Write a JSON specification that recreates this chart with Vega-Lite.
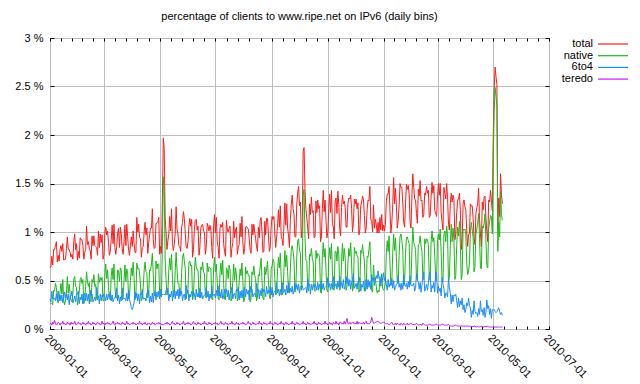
{
"$schema":"https://vega.github.io/schema/vega-lite/v6.json",
"width":499,"height":291,
"autosize":{"type":"none"},
"padding":{"left":50,"top":38,"right":91,"bottom":55},
"title":{"text":"percentage of clients to www.ripe.net on IPv6 (daily bins)","fontSize":11,"fontWeight":"normal","font":"Liberation Sans","color":"#000","offset":10,"anchor":"middle"},
"data":{"values":[
{"d":"2009-01-01","t":0.63,"n":0.26,"s":0.31,"r":0.05},
{"d":"2009-01-02","t":0.64,"n":0.26,"s":0.28,"r":0.06},
{"d":"2009-01-03","t":0.75,"n":0.27,"s":0.39,"r":0.04},
{"d":"2009-01-04","t":0.66,"n":0.25,"s":0.31,"r":0.07},
{"d":"2009-01-05","t":0.82,"n":0.4,"s":0.31,"r":0.05},
{"d":"2009-01-06","t":0.82,"n":0.39,"s":0.32,"r":0.09},
{"d":"2009-01-07","t":0.86,"n":0.47,"s":0.29,"r":0.06},
{"d":"2009-01-08","t":0.9,"n":0.43,"s":0.36,"r":0.04},
{"d":"2009-01-09","t":0.69,"n":0.3,"s":0.3,"r":0.05},
{"d":"2009-01-10","t":0.76,"n":0.27,"s":0.39,"r":0.07},
{"d":"2009-01-11","t":0.7,"n":0.3,"s":0.29,"r":0.06},
{"d":"2009-01-12","t":0.82,"n":0.38,"s":0.35,"r":0.04},
{"d":"2009-01-13","t":0.86,"n":0.47,"s":0.29,"r":0.06},
{"d":"2009-01-14","t":0.8,"n":0.36,"s":0.35,"r":0.05},
{"d":"2009-01-15","t":0.88,"n":0.51,"s":0.27,"r":0.08},
{"d":"2009-01-16","t":0.71,"n":0.3,"s":0.32,"r":0.05},
{"d":"2009-01-17","t":0.72,"n":0.25,"s":0.38,"r":0.06},
{"d":"2009-01-18","t":0.72,"n":0.3,"s":0.32,"r":0.04},
{"d":"2009-01-19","t":0.83,"n":0.37,"s":0.36,"r":0.05},
{"d":"2009-01-20","t":0.95,"n":0.54,"s":0.3,"r":0.07},
{"d":"2009-01-21","t":0.82,"n":0.37,"s":0.36,"r":0.05},
{"d":"2009-01-22","t":0.82,"n":0.46,"s":0.25,"r":0.06},
{"d":"2009-01-23","t":0.79,"n":0.36,"s":0.34,"r":0.04},
{"d":"2009-01-24","t":0.74,"n":0.29,"s":0.34,"r":0.07},
{"d":"2009-01-25","t":0.77,"n":0.28,"s":0.39,"r":0.05},
{"d":"2009-01-26","t":0.72,"n":0.36,"s":0.27,"r":0.06},
{"d":"2009-01-27","t":0.9,"n":0.51,"s":0.3,"r":0.05},
{"d":"2009-01-28","t":0.98,"n":0.54,"s":0.34,"r":0.08},
{"d":"2009-01-29","t":0.82,"n":0.44,"s":0.28,"r":0.05},
{"d":"2009-01-30","t":0.88,"n":0.43,"s":0.36,"r":0.04},
{"d":"2009-01-31","t":0.71,"n":0.25,"s":0.36,"r":0.06},
{"d":"2009-02-01","t":0.8,"n":0.31,"s":0.39,"r":0.07},
{"d":"2009-02-02","t":0.73,"n":0.38,"s":0.26,"r":0.05},
{"d":"2009-02-03","t":0.94,"n":0.51,"s":0.33,"r":0.06},
{"d":"2009-02-04","t":0.92,"n":0.53,"s":0.3,"r":0.04},
{"d":"2009-02-05","t":0.92,"n":0.47,"s":0.36,"r":0.05},
{"d":"2009-02-06","t":0.86,"n":0.51,"s":0.26,"r":0.07},
{"d":"2009-02-07","t":0.72,"n":0.26,"s":0.36,"r":0.05},
{"d":"2009-02-08","t":0.79,"n":0.31,"s":0.37,"r":0.06},
{"d":"2009-02-09","t":0.82,"n":0.44,"s":0.29,"r":0.04},
{"d":"2009-02-10","t":1.06,"n":0.59,"s":0.37,"r":0.06},
{"d":"2009-02-11","t":0.87,"n":0.49,"s":0.29,"r":0.05},
{"d":"2009-02-12","t":0.9,"n":0.44,"s":0.36,"r":0.08},
{"d":"2009-02-13","t":0.83,"n":0.48,"s":0.26,"r":0.05},
{"d":"2009-02-14","t":0.81,"n":0.3,"s":0.4,"r":0.06},
{"d":"2009-02-15","t":0.72,"n":0.28,"s":0.34,"r":0.04},
{"d":"2009-02-16","t":0.96,"n":0.51,"s":0.36,"r":0.05},
{"d":"2009-02-17","t":0.86,"n":0.48,"s":0.28,"r":0.07},
{"d":"2009-02-18","t":0.96,"n":0.56,"s":0.3,"r":0.05},
{"d":"2009-02-19","t":0.86,"n":0.44,"s":0.33,"r":0.06},
{"d":"2009-02-20","t":0.85,"n":0.46,"s":0.29,"r":0.04},
{"d":"2009-02-21","t":0.84,"n":0.31,"s":0.43,"r":0.06},
{"d":"2009-02-22","t":0.76,"n":0.3,"s":0.35,"r":0.07},
{"d":"2009-02-23","t":1.01,"n":0.57,"s":0.34,"r":0.05},
{"d":"2009-02-24","t":0.84,"n":0.48,"s":0.26,"r":0.06},
{"d":"2009-02-25","t":0.98,"n":0.53,"s":0.36,"r":0.04},
{"d":"2009-02-26","t":0.89,"n":0.5,"s":0.29,"r":0.05},
{"d":"2009-02-27","t":0.97,"n":0.53,"s":0.35,"r":0.08},
{"d":"2009-02-28","t":0.72,"n":0.29,"s":0.33,"r":0.05},
{"d":"2009-03-01","t":0.76,"n":0.29,"s":0.36,"r":0.06},
{"d":"2009-03-02","t":0.98,"n":0.56,"s":0.33,"r":0.04},
{"d":"2009-03-03","t":1.05,"n":0.67,"s":0.29,"r":0.06},
{"d":"2009-03-04","t":0.97,"n":0.52,"s":0.36,"r":0.05},
{"d":"2009-03-05","t":1.01,"n":0.61,"s":0.3,"r":0.07},
{"d":"2009-03-06","t":0.89,"n":0.44,"s":0.36,"r":0.05},
{"d":"2009-03-07","t":0.76,"n":0.32,"s":0.33,"r":0.06},
{"d":"2009-03-08","t":0.8,"n":0.3,"s":0.39,"r":0.04},
{"d":"2009-03-09","t":0.92,"n":0.54,"s":0.29,"r":0.05},
{"d":"2009-03-10","t":1.07,"n":0.63,"s":0.35,"r":0.06},
{"d":"2009-03-11","t":0.88,"n":0.51,"s":0.28,"r":0.08},
{"d":"2009-03-12","t":1.08,"n":0.67,"s":0.31,"r":0.05},
{"d":"2009-03-13","t":0.84,"n":0.44,"s":0.32,"r":0.04},
{"d":"2009-03-14","t":0.77,"n":0.32,"s":0.34,"r":0.06},
{"d":"2009-03-15","t":0.85,"n":0.32,"s":0.42,"r":0.05},
{"d":"2009-03-16","t":0.99,"n":0.61,"s":0.29,"r":0.07},
{"d":"2009-03-17","t":1.04,"n":0.6,"s":0.35,"r":0.05},
{"d":"2009-03-18","t":0.84,"n":0.49,"s":0.26,"r":0.06},
{"d":"2009-03-19","t":1.05,"n":0.63,"s":0.33,"r":0.04},
{"d":"2009-03-20","t":0.98,"n":0.6,"s":0.29,"r":0.05},
{"d":"2009-03-21","t":0.83,"n":0.3,"s":0.42,"r":0.07},
{"d":"2009-03-22","t":0.77,"n":0.34,"s":0.32,"r":0.05},
{"d":"2009-03-23","t":0.9,"n":0.5,"s":0.31,"r":0.06},
{"d":"2009-03-24","t":1.07,"n":0.66,"s":0.32,"r":0.04},
{"d":"2009-03-25","t":0.86,"n":0.49,"s":0.29,"r":0.05},
{"d":"2009-03-26","t":1.08,"n":0.62,"s":0.37,"r":0.08},
{"d":"2009-03-27","t":0.95,"n":0.57,"s":0.29,"r":0.05},
{"d":"2009-03-28","t":0.81,"n":0.31,"s":0.4,"r":0.06},
{"d":"2009-03-29","t":0.76,"n":0.35,"s":0.3,"r":0.04},
{"d":"2009-03-30","t":0.86,"n":0.5,"s":0.27,"r":0.05},
{"d":"2009-03-31","t":0.95,"n":0.63,"s":0.22,"r":0.06},
{"d":"2009-04-01","t":0.85,"n":0.55,"s":0.2,"r":0.05},
{"d":"2009-04-02","t":1.01,"n":0.69,"s":0.23,"r":0.07},
{"d":"2009-04-03","t":0.88,"n":0.53,"s":0.27,"r":0.05},
{"d":"2009-04-04","t":0.79,"n":0.3,"s":0.38,"r":0.06},
{"d":"2009-04-05","t":0.79,"n":0.35,"s":0.32,"r":0.04},
{"d":"2009-04-06","t":1.15,"n":0.68,"s":0.37,"r":0.05},
{"d":"2009-04-07","t":1.0,"n":0.62,"s":0.29,"r":0.06},
{"d":"2009-04-08","t":1.08,"n":0.63,"s":0.36,"r":0.05},
{"d":"2009-04-09","t":0.94,"n":0.58,"s":0.26,"r":0.08},
{"d":"2009-04-10","t":0.93,"n":0.46,"s":0.37,"r":0.05},
{"d":"2009-04-11","t":0.74,"n":0.29,"s":0.35,"r":0.06},
{"d":"2009-04-12","t":0.84,"n":0.32,"s":0.41,"r":0.04},
{"d":"2009-04-13","t":0.85,"n":0.43,"s":0.31,"r":0.06},
{"d":"2009-04-14","t":1.0,"n":0.6,"s":0.31,"r":0.05},
{"d":"2009-04-15","t":1.1,"n":0.69,"s":0.32,"r":0.07},
{"d":"2009-04-16","t":0.97,"n":0.59,"s":0.29,"r":0.05},
{"d":"2009-04-17","t":1.04,"n":0.58,"s":0.37,"r":0.04},
{"d":"2009-04-18","t":0.78,"n":0.32,"s":0.36,"r":0.06},
{"d":"2009-04-19","t":0.89,"n":0.37,"s":0.4,"r":0.05},
{"d":"2009-04-20","t":0.97,"n":0.61,"s":0.27,"r":0.06},
{"d":"2009-04-21","t":1.04,"n":0.6,"s":0.34,"r":0.04},
{"d":"2009-04-22","t":1.04,"n":0.67,"s":0.28,"r":0.05},
{"d":"2009-04-23","t":1.24,"n":0.78,"s":0.37,"r":0.07},
{"d":"2009-04-24","t":0.92,"n":0.56,"s":0.27,"r":0.05},
{"d":"2009-04-25","t":0.83,"n":0.35,"s":0.38,"r":0.06},
{"d":"2009-04-26","t":0.84,"n":0.34,"s":0.39,"r":0.04},
{"d":"2009-04-27","t":1.09,"n":0.7,"s":0.3,"r":0.05},
{"d":"2009-04-28","t":1.09,"n":0.62,"s":0.38,"r":0.06},
{"d":"2009-04-29","t":1.1,"n":0.67,"s":0.33,"r":0.05},
{"d":"2009-04-30","t":1.15,"n":0.67,"s":0.39,"r":0.07},
{"d":"2009-05-01","t":0.77,"n":0.36,"s":0.31,"r":0.05},
{"d":"2009-05-02","t":0.85,"n":0.35,"s":0.41,"r":0.06},
{"d":"2009-05-03","t":0.78,"n":0.33,"s":0.35,"r":0.04},
{"d":"2009-05-04","t":1.35,"n":0.9,"s":0.36,"r":0.05},
{"d":"2009-05-05","t":1.97,"n":1.57,"s":0.35,"r":0.04},
{"d":"2009-05-06","t":1.85,"n":1.42,"s":0.36,"r":0.05},
{"d":"2009-05-07","t":1.15,"n":0.72,"s":0.35,"r":0.06},
{"d":"2009-05-08","t":0.99,"n":0.51,"s":0.4,"r":0.05},
{"d":"2009-05-09","t":0.82,"n":0.35,"s":0.38,"r":0.07},
{"d":"2009-05-10","t":0.91,"n":0.39,"s":0.42,"r":0.05},
{"d":"2009-05-11","t":0.98,"n":0.61,"s":0.29,"r":0.06},
{"d":"2009-05-12","t":1.16,"n":0.73,"s":0.36,"r":0.04},
{"d":"2009-05-13","t":1.01,"n":0.61,"s":0.33,"r":0.05},
{"d":"2009-05-14","t":1.24,"n":0.77,"s":0.39,"r":0.06},
{"d":"2009-05-15","t":0.88,"n":0.52,"s":0.29,"r":0.08},
{"d":"2009-05-16","t":0.81,"n":0.33,"s":0.39,"r":0.05},
{"d":"2009-05-17","t":0.87,"n":0.37,"s":0.4,"r":0.06},
{"d":"2009-05-18","t":0.99,"n":0.6,"s":0.31,"r":0.04},
{"d":"2009-05-19","t":1.26,"n":0.79,"s":0.39,"r":0.05},
{"d":"2009-05-20","t":1.03,"n":0.61,"s":0.34,"r":0.07},
{"d":"2009-05-21","t":0.98,"n":0.47,"s":0.41,"r":0.05},
{"d":"2009-05-22","t":0.86,"n":0.47,"s":0.31,"r":0.06},
{"d":"2009-05-23","t":0.85,"n":0.34,"s":0.42,"r":0.04},
{"d":"2009-05-24","t":0.8,"n":0.34,"s":0.36,"r":0.05},
{"d":"2009-05-25","t":1.05,"n":0.58,"s":0.39,"r":0.06},
{"d":"2009-05-26","t":1.1,"n":0.74,"s":0.29,"r":0.05},
{"d":"2009-05-27","t":1.21,"n":0.78,"s":0.35,"r":0.08},
{"d":"2009-05-28","t":1.14,"n":0.7,"s":0.36,"r":0.05},
{"d":"2009-05-29","t":0.99,"n":0.62,"s":0.3,"r":0.04},
{"d":"2009-05-30","t":0.85,"n":0.31,"s":0.45,"r":0.06},
{"d":"2009-05-31","t":0.83,"n":0.37,"s":0.37,"r":0.05},
{"d":"2009-06-01","t":0.9,"n":0.42,"s":0.4,"r":0.07},
{"d":"2009-06-02","t":1.06,"n":0.69,"s":0.29,"r":0.05},
{"d":"2009-06-03","t":1.14,"n":0.7,"s":0.36,"r":0.06},
{"d":"2009-06-04","t":1.06,"n":0.65,"s":0.33,"r":0.04},
{"d":"2009-06-05","t":1.13,"n":0.66,"s":0.39,"r":0.05},
{"d":"2009-06-06","t":0.74,"n":0.3,"s":0.35,"r":0.06},
{"d":"2009-06-07","t":0.82,"n":0.35,"s":0.38,"r":0.08},
{"d":"2009-06-08","t":1.03,"n":0.59,"s":0.36,"r":0.05},
{"d":"2009-06-09","t":1.12,"n":0.74,"s":0.3,"r":0.06},
{"d":"2009-06-10","t":1.13,"n":0.64,"s":0.41,"r":0.04},
{"d":"2009-06-11","t":1.02,"n":0.61,"s":0.33,"r":0.05},
{"d":"2009-06-12","t":1.06,"n":0.61,"s":0.37,"r":0.07},
{"d":"2009-06-13","t":0.76,"n":0.34,"s":0.33,"r":0.05},
{"d":"2009-06-14","t":0.84,"n":0.32,"s":0.42,"r":0.06},
{"d":"2009-06-15","t":1.04,"n":0.64,"s":0.32,"r":0.04},
{"d":"2009-06-16","t":1.07,"n":0.61,"s":0.38,"r":0.05},
{"d":"2009-06-17","t":1.08,"n":0.69,"s":0.31,"r":0.06},
{"d":"2009-06-18","t":1.01,"n":0.59,"s":0.34,"r":0.05},
{"d":"2009-06-19","t":1.0,"n":0.57,"s":0.35,"r":0.08},
{"d":"2009-06-20","t":0.77,"n":0.33,"s":0.35,"r":0.05},
{"d":"2009-06-21","t":0.84,"n":0.32,"s":0.43,"r":0.06},
{"d":"2009-06-22","t":1.09,"n":0.68,"s":0.33,"r":0.04},
{"d":"2009-06-23","t":1.06,"n":0.59,"s":0.39,"r":0.05},
{"d":"2009-06-24","t":1.01,"n":0.64,"s":0.29,"r":0.07},
{"d":"2009-06-25","t":1.07,"n":0.63,"s":0.36,"r":0.05},
{"d":"2009-06-26","t":1.02,"n":0.62,"s":0.32,"r":0.06},
{"d":"2009-06-27","t":0.84,"n":0.31,"s":0.44,"r":0.04},
{"d":"2009-06-28","t":0.73,"n":0.3,"s":0.34,"r":0.05},
{"d":"2009-06-29","t":1.06,"n":0.63,"s":0.35,"r":0.06},
{"d":"2009-06-30","t":1.18,"n":0.74,"s":0.36,"r":0.05},
{"d":"2009-07-01","t":0.99,"n":0.59,"s":0.32,"r":0.07},
{"d":"2009-07-02","t":1.15,"n":0.67,"s":0.4,"r":0.05},
{"d":"2009-07-03","t":0.9,"n":0.48,"s":0.34,"r":0.06},
{"d":"2009-07-04","t":0.84,"n":0.32,"s":0.44,"r":0.04},
{"d":"2009-07-05","t":0.73,"n":0.3,"s":0.34,"r":0.05},
{"d":"2009-07-06","t":1.04,"n":0.58,"s":0.38,"r":0.06},
{"d":"2009-07-07","t":1.08,"n":0.68,"s":0.32,"r":0.08},
{"d":"2009-07-08","t":1.05,"n":0.56,"s":0.41,"r":0.05},
{"d":"2009-07-09","t":1.1,"n":0.71,"s":0.31,"r":0.06},
{"d":"2009-07-10","t":0.88,"n":0.46,"s":0.34,"r":0.04},
{"d":"2009-07-11","t":0.8,"n":0.31,"s":0.41,"r":0.05},
{"d":"2009-07-12","t":0.75,"n":0.3,"s":0.37,"r":0.07},
{"d":"2009-07-13","t":1.12,"n":0.63,"s":0.41,"r":0.05},
{"d":"2009-07-14","t":1.02,"n":0.61,"s":0.33,"r":0.06},
{"d":"2009-07-15","t":1.0,"n":0.52,"s":0.4,"r":0.04},
{"d":"2009-07-16","t":1.04,"n":0.66,"s":0.3,"r":0.05},
{"d":"2009-07-17","t":1.06,"n":0.61,"s":0.37,"r":0.06},
{"d":"2009-07-18","t":0.74,"n":0.29,"s":0.37,"r":0.05},
{"d":"2009-07-19","t":0.83,"n":0.32,"s":0.43,"r":0.08},
{"d":"2009-07-20","t":0.89,"n":0.5,"s":0.31,"r":0.05},
{"d":"2009-07-21","t":1.11,"n":0.67,"s":0.36,"r":0.06},
{"d":"2009-07-22","t":0.94,"n":0.5,"s":0.37,"r":0.04},
{"d":"2009-07-23","t":1.02,"n":0.63,"s":0.31,"r":0.05},
{"d":"2009-07-24","t":1.05,"n":0.56,"s":0.41,"r":0.07},
{"d":"2009-07-25","t":0.77,"n":0.29,"s":0.39,"r":0.05},
{"d":"2009-07-26","t":0.84,"n":0.33,"s":0.43,"r":0.06},
{"d":"2009-07-27","t":0.87,"n":0.49,"s":0.3,"r":0.04},
{"d":"2009-07-28","t":1.09,"n":0.62,"s":0.39,"r":0.05},
{"d":"2009-07-29","t":0.95,"n":0.55,"s":0.32,"r":0.06},
{"d":"2009-07-30","t":1.16,"n":0.68,"s":0.4,"r":0.05},
{"d":"2009-07-31","t":0.9,"n":0.5,"s":0.32,"r":0.07},
{"d":"2009-08-01","t":0.77,"n":0.28,"s":0.4,"r":0.05},
{"d":"2009-08-02","t":0.83,"n":0.32,"s":0.43,"r":0.06},
{"d":"2009-08-03","t":1.05,"n":0.64,"s":0.33,"r":0.04},
{"d":"2009-08-04","t":1.06,"n":0.57,"s":0.41,"r":0.05},
{"d":"2009-08-05","t":1.04,"n":0.6,"s":0.36,"r":0.06},
{"d":"2009-08-06","t":1.03,"n":0.55,"s":0.4,"r":0.08},
{"d":"2009-08-07","t":0.93,"n":0.55,"s":0.3,"r":0.05},
{"d":"2009-08-08","t":0.81,"n":0.28,"s":0.44,"r":0.06},
{"d":"2009-08-09","t":0.78,"n":0.31,"s":0.38,"r":0.04},
{"d":"2009-08-10","t":1.08,"n":0.59,"s":0.41,"r":0.05},
{"d":"2009-08-11","t":0.97,"n":0.56,"s":0.33,"r":0.07},
{"d":"2009-08-12","t":1.08,"n":0.65,"s":0.36,"r":0.05},
{"d":"2009-08-13","t":1.0,"n":0.55,"s":0.37,"r":0.06},
{"d":"2009-08-14","t":0.93,"n":0.52,"s":0.33,"r":0.04},
{"d":"2009-08-15","t":0.85,"n":0.29,"s":0.47,"r":0.05},
{"d":"2009-08-16","t":0.8,"n":0.33,"s":0.39,"r":0.06},
{"d":"2009-08-17","t":1.05,"n":0.56,"s":0.41,"r":0.05},
{"d":"2009-08-18","t":0.94,"n":0.55,"s":0.31,"r":0.08},
{"d":"2009-08-19","t":1.12,"n":0.64,"s":0.4,"r":0.05},
{"d":"2009-08-20","t":1.15,"n":0.73,"s":0.34,"r":0.06},
{"d":"2009-08-21","t":1.0,"n":0.5,"s":0.42,"r":0.04},
{"d":"2009-08-22","t":0.79,"n":0.32,"s":0.38,"r":0.05},
{"d":"2009-08-23","t":0.8,"n":0.3,"s":0.41,"r":0.07},
{"d":"2009-08-24","t":1.11,"n":0.64,"s":0.39,"r":0.05},
{"d":"2009-08-25","t":0.97,"n":0.56,"s":0.33,"r":0.06},
{"d":"2009-08-26","t":1.14,"n":0.62,"s":0.44,"r":0.04},
{"d":"2009-08-27","t":1.14,"n":0.7,"s":0.36,"r":0.05},
{"d":"2009-08-28","t":0.98,"n":0.5,"s":0.4,"r":0.06},
{"d":"2009-08-29","t":0.8,"n":0.34,"s":0.37,"r":0.05},
{"d":"2009-08-30","t":0.84,"n":0.31,"s":0.44,"r":0.08},
{"d":"2009-08-31","t":1.05,"n":0.62,"s":0.35,"r":0.05},
{"d":"2009-09-01","t":1.16,"n":0.65,"s":0.43,"r":0.06},
{"d":"2009-09-02","t":1.13,"n":0.72,"s":0.33,"r":0.04},
{"d":"2009-09-03","t":1.16,"n":0.7,"s":0.38,"r":0.05},
{"d":"2009-09-04","t":0.98,"n":0.51,"s":0.39,"r":0.07},
{"d":"2009-09-05","t":0.84,"n":0.35,"s":0.4,"r":0.05},
{"d":"2009-09-06","t":0.95,"n":0.38,"s":0.48,"r":0.06},
{"d":"2009-09-07","t":1.07,"n":0.62,"s":0.37,"r":0.04},
{"d":"2009-09-08","t":1.23,"n":0.74,"s":0.41,"r":0.05},
{"d":"2009-09-09","t":1.05,"n":0.63,"s":0.34,"r":0.06},
{"d":"2009-09-10","t":1.27,"n":0.78,"s":0.41,"r":0.05},
{"d":"2009-09-11","t":0.95,"n":0.52,"s":0.35,"r":0.08},
{"d":"2009-09-12","t":0.92,"n":0.35,"s":0.48,"r":0.05},
{"d":"2009-09-13","t":0.86,"n":0.38,"s":0.38,"r":0.06},
{"d":"2009-09-14","t":1.08,"n":0.62,"s":0.38,"r":0.04},
{"d":"2009-09-15","t":1.3,"n":0.81,"s":0.41,"r":0.05},
{"d":"2009-09-16","t":1.07,"n":0.64,"s":0.35,"r":0.07},
{"d":"2009-09-17","t":1.29,"n":0.76,"s":0.45,"r":0.05},
{"d":"2009-09-18","t":1.04,"n":0.59,"s":0.37,"r":0.06},
{"d":"2009-09-19","t":0.96,"n":0.38,"s":0.48,"r":0.04},
{"d":"2009-09-20","t":0.84,"n":0.37,"s":0.38,"r":0.05},
{"d":"2009-09-21","t":1.13,"n":0.63,"s":0.42,"r":0.06},
{"d":"2009-09-22","t":1.28,"n":0.82,"s":0.38,"r":0.05},
{"d":"2009-09-23","t":1.38,"n":0.86,"s":0.44,"r":0.08},
{"d":"2009-09-24","t":1.24,"n":0.8,"s":0.36,"r":0.05},
{"d":"2009-09-25","t":1.18,"n":0.71,"s":0.39,"r":0.06},
{"d":"2009-09-26","t":0.95,"n":0.38,"s":0.47,"r":0.04},
{"d":"2009-09-27","t":0.95,"n":0.44,"s":0.41,"r":0.05},
{"d":"2009-09-28","t":1.28,"n":0.74,"s":0.46,"r":0.07},
{"d":"2009-09-29","t":1.4,"n":0.91,"s":0.4,"r":0.05},
{"d":"2009-09-30","t":1.47,"n":0.93,"s":0.46,"r":0.06},
{"d":"2009-10-01","t":1.27,"n":0.81,"s":0.37,"r":0.04},
{"d":"2009-10-02","t":1.31,"n":0.78,"s":0.44,"r":0.05},
{"d":"2009-10-03","t":0.94,"n":0.4,"s":0.44,"r":0.06},
{"d":"2009-10-04","t":1.05,"n":0.5,"s":0.45,"r":0.05},
{"d":"2009-10-05","t":1.83,"n":1.38,"s":0.4,"r":0.08},
{"d":"2009-10-06","t":1.87,"n":1.44,"s":0.41,"r":0.05},
{"d":"2009-10-07","t":1.45,"n":0.95,"s":0.42,"r":0.06},
{"d":"2009-10-08","t":1.23,"n":0.71,"s":0.43,"r":0.04},
{"d":"2009-10-09","t":1.14,"n":0.7,"s":0.37,"r":0.05},
{"d":"2009-10-10","t":1.04,"n":0.42,"s":0.52,"r":0.07},
{"d":"2009-10-11","t":0.93,"n":0.39,"s":0.44,"r":0.05},
{"d":"2009-10-12","t":1.29,"n":0.77,"s":0.46,"r":0.06},
{"d":"2009-10-13","t":1.18,"n":0.75,"s":0.36,"r":0.04},
{"d":"2009-10-14","t":1.36,"n":0.83,"s":0.46,"r":0.05},
{"d":"2009-10-15","t":1.2,"n":0.73,"s":0.4,"r":0.06},
{"d":"2009-10-16","t":1.22,"n":0.69,"s":0.46,"r":0.05},
{"d":"2009-10-17","t":0.94,"n":0.41,"s":0.43,"r":0.08},
{"d":"2009-10-18","t":0.95,"n":0.39,"s":0.46,"r":0.05},
{"d":"2009-10-19","t":1.32,"n":0.81,"s":0.44,"r":0.06},
{"d":"2009-10-20","t":1.2,"n":0.73,"s":0.4,"r":0.04},
{"d":"2009-10-21","t":1.33,"n":0.78,"s":0.48,"r":0.05},
{"d":"2009-10-22","t":1.24,"n":0.77,"s":0.4,"r":0.07},
{"d":"2009-10-23","t":1.27,"n":0.74,"s":0.46,"r":0.05},
{"d":"2009-10-24","t":0.9,"n":0.38,"s":0.42,"r":0.06},
{"d":"2009-10-25","t":0.95,"n":0.37,"s":0.49,"r":0.04},
{"d":"2009-10-26","t":1.24,"n":0.76,"s":0.41,"r":0.05},
{"d":"2009-10-27","t":1.43,"n":0.89,"s":0.47,"r":0.06},
{"d":"2009-10-28","t":1.21,"n":0.74,"s":0.4,"r":0.05},
{"d":"2009-10-29","t":1.33,"n":0.83,"s":0.43,"r":0.08},
{"d":"2009-10-30","t":1.12,"n":0.61,"s":0.44,"r":0.05},
{"d":"2009-10-31","t":0.94,"n":0.4,"s":0.45,"r":0.06},
{"d":"2009-11-01","t":1.0,"n":0.38,"s":0.53,"r":0.04},
{"d":"2009-11-02","t":1.24,"n":0.73,"s":0.43,"r":0.05},
{"d":"2009-11-03","t":1.39,"n":0.84,"s":0.47,"r":0.07},
{"d":"2009-11-04","t":1.2,"n":0.72,"s":0.4,"r":0.05},
{"d":"2009-11-05","t":1.43,"n":0.88,"s":0.47,"r":0.06},
{"d":"2009-11-06","t":1.09,"n":0.6,"s":0.41,"r":0.04},
{"d":"2009-11-07","t":1.05,"n":0.41,"s":0.54,"r":0.07},
{"d":"2009-11-08","t":0.93,"n":0.4,"s":0.44,"r":0.06},
{"d":"2009-11-09","t":1.32,"n":0.8,"s":0.44,"r":0.05},
{"d":"2009-11-10","t":1.35,"n":0.8,"s":0.47,"r":0.08},
{"d":"2009-11-11","t":1.19,"n":0.7,"s":0.41,"r":0.05},
{"d":"2009-11-12","t":1.42,"n":0.85,"s":0.49,"r":0.06},
{"d":"2009-11-13","t":1.28,"n":0.77,"s":0.43,"r":0.04},
{"d":"2009-11-14","t":1.03,"n":0.4,"s":0.54,"r":0.07},
{"d":"2009-11-15","t":0.96,"n":0.43,"s":0.44,"r":0.07},
{"d":"2009-11-16","t":1.25,"n":0.69,"s":0.48,"r":0.05},
{"d":"2009-11-17","t":1.38,"n":0.88,"s":0.42,"r":0.06},
{"d":"2009-11-18","t":1.29,"n":0.7,"s":0.51,"r":0.05},
{"d":"2009-11-19","t":1.32,"n":0.83,"s":0.41,"r":0.08},
{"d":"2009-11-20","t":1.25,"n":0.73,"s":0.44,"r":0.05},
{"d":"2009-11-21","t":1.05,"n":0.4,"s":0.54,"r":0.08},
{"d":"2009-11-22","t":1.05,"n":0.44,"s":0.47,"r":0.11},
{"d":"2009-11-23","t":1.29,"n":0.68,"s":0.52,"r":0.06},
{"d":"2009-11-24","t":1.35,"n":0.83,"s":0.44,"r":0.05},
{"d":"2009-11-25","t":1.34,"n":0.75,"s":0.51,"r":0.07},
{"d":"2009-11-26","t":1.38,"n":0.89,"s":0.41,"r":0.05},
{"d":"2009-11-27","t":1.24,"n":0.68,"s":0.48,"r":0.06},
{"d":"2009-11-28","t":1.0,"n":0.39,"s":0.51,"r":0.07},
{"d":"2009-11-29","t":1.1,"n":0.43,"s":0.57,"r":0.07},
{"d":"2009-11-30","t":1.34,"n":0.84,"s":0.42,"r":0.05},
{"d":"2009-12-01","t":1.29,"n":0.78,"s":0.44,"r":0.06},
{"d":"2009-12-02","t":1.34,"n":0.8,"s":0.47,"r":0.05},
{"d":"2009-12-03","t":1.24,"n":0.76,"s":0.41,"r":0.08},
{"d":"2009-12-04","t":1.3,"n":0.74,"s":0.49,"r":0.05},
{"d":"2009-12-05","t":0.97,"n":0.38,"s":0.49,"r":0.07},
{"d":"2009-12-06","t":1.02,"n":0.41,"s":0.53,"r":0.06},
{"d":"2009-12-07","t":1.27,"n":0.81,"s":0.39,"r":0.05},
{"d":"2009-12-08","t":1.31,"n":0.78,"s":0.46,"r":0.06},
{"d":"2009-12-09","t":1.37,"n":0.87,"s":0.43,"r":0.05},
{"d":"2009-12-10","t":1.33,"n":0.77,"s":0.49,"r":0.07},
{"d":"2009-12-11","t":1.17,"n":0.71,"s":0.39,"r":0.05},
{"d":"2009-12-12","t":0.99,"n":0.39,"s":0.5,"r":0.07},
{"d":"2009-12-13","t":1.04,"n":0.43,"s":0.51,"r":0.08},
{"d":"2009-12-14","t":1.23,"n":0.75,"s":0.41,"r":0.05},
{"d":"2009-12-15","t":1.33,"n":0.74,"s":0.51,"r":0.06},
{"d":"2009-12-16","t":1.32,"n":0.82,"s":0.43,"r":0.05},
{"d":"2009-12-17","t":1.47,"n":0.9,"s":0.49,"r":0.06},
{"d":"2009-12-18","t":1.13,"n":0.63,"s":0.41,"r":0.07},
{"d":"2009-12-19","t":1.11,"n":0.4,"s":0.56,"r":0.12},
{"d":"2009-12-20","t":1.0,"n":0.38,"s":0.5,"r":0.09},
{"d":"2009-12-21","t":1.28,"n":0.66,"s":0.53,"r":0.06},
{"d":"2009-12-22","t":1.04,"n":0.5,"s":0.45,"r":0.06},
{"d":"2009-12-23","t":1.13,"n":0.53,"s":0.5,"r":0.07},
{"d":"2009-12-24","t":1.08,"n":0.44,"s":0.55,"r":0.07},
{"d":"2009-12-25","t":0.99,"n":0.37,"s":0.52,"r":0.08},
{"d":"2009-12-26","t":1.1,"n":0.4,"s":0.6,"r":0.08},
{"d":"2009-12-27","t":0.99,"n":0.38,"s":0.52,"r":0.07},
{"d":"2009-12-28","t":1.15,"n":0.52,"s":0.54,"r":0.06},
{"d":"2009-12-29","t":1.02,"n":0.49,"s":0.44,"r":0.06},
{"d":"2009-12-30","t":1.18,"n":0.57,"s":0.53,"r":0.06},
{"d":"2009-12-31","t":1.01,"n":0.42,"s":0.5,"r":0.07},
{"d":"2010-01-01","t":1.07,"n":0.4,"s":0.58,"r":0.07},
{"d":"2010-01-02","t":1.01,"n":0.42,"s":0.5,"r":0.07},
{"d":"2010-01-03","t":1.08,"n":0.47,"s":0.52,"r":0.06},
{"d":"2010-01-04","t":1.32,"n":0.78,"s":0.46,"r":0.05},
{"d":"2010-01-05","t":1.39,"n":0.91,"s":0.4,"r":0.06},
{"d":"2010-01-06","t":1.39,"n":0.8,"s":0.51,"r":0.05},
{"d":"2010-01-07","t":1.47,"n":0.96,"s":0.43,"r":0.04},
{"d":"2010-01-08","t":1.22,"n":0.67,"s":0.47,"r":0.05},
{"d":"2010-01-09","t":0.99,"n":0.45,"s":0.45,"r":0.06},
{"d":"2010-01-10","t":1.09,"n":0.48,"s":0.52,"r":0.07},
{"d":"2010-01-11","t":1.28,"n":0.78,"s":0.42,"r":0.05},
{"d":"2010-01-12","t":1.56,"n":0.98,"s":0.5,"r":0.04},
{"d":"2010-01-13","t":1.29,"n":0.81,"s":0.4,"r":0.05},
{"d":"2010-01-14","t":1.45,"n":0.94,"s":0.43,"r":0.06},
{"d":"2010-01-15","t":1.28,"n":0.74,"s":0.46,"r":0.04},
{"d":"2010-01-16","t":1.04,"n":0.48,"s":0.47,"r":0.06},
{"d":"2010-01-17","t":1.11,"n":0.47,"s":0.55,"r":0.05},
{"d":"2010-01-18","t":1.27,"n":0.76,"s":0.43,"r":0.05},
{"d":"2010-01-19","t":1.5,"n":0.95,"s":0.47,"r":0.04},
{"d":"2010-01-20","t":1.46,"n":0.98,"s":0.4,"r":0.06},
{"d":"2010-01-21","t":1.46,"n":0.91,"s":0.47,"r":0.05},
{"d":"2010-01-22","t":1.3,"n":0.81,"s":0.41,"r":0.04},
{"d":"2010-01-23","t":1.1,"n":0.45,"s":0.56,"r":0.06},
{"d":"2010-01-24","t":1.05,"n":0.5,"s":0.46,"r":0.05},
{"d":"2010-01-25","t":1.29,"n":0.77,"s":0.44,"r":0.04},
{"d":"2010-01-26","t":1.49,"n":0.94,"s":0.47,"r":0.05},
{"d":"2010-01-27","t":1.44,"n":0.95,"s":0.41,"r":0.06},
{"d":"2010-01-28","t":1.48,"n":0.91,"s":0.49,"r":0.04},
{"d":"2010-01-29","t":1.39,"n":0.88,"s":0.43,"r":0.05},
{"d":"2010-01-30","t":1.1,"n":0.46,"s":0.55,"r":0.05},
{"d":"2010-01-31","t":1.04,"n":0.5,"s":0.45,"r":0.06},
{"d":"2010-02-01","t":1.36,"n":0.81,"s":0.45,"r":0.05},
{"d":"2010-02-02","t":1.6,"n":1.05,"s":0.45,"r":0.04},
{"d":"2010-02-03","t":1.46,"n":0.89,"s":0.47,"r":0.05},
{"d":"2010-02-04","t":1.34,"n":0.86,"s":0.39,"r":0.04},
{"d":"2010-02-05","t":1.33,"n":0.82,"s":0.42,"r":0.05},
{"d":"2010-02-06","t":1.19,"n":0.53,"s":0.57,"r":0.06},
{"d":"2010-02-07","t":1.09,"n":0.5,"s":0.5,"r":0.05},
{"d":"2010-02-08","t":1.44,"n":0.87,"s":0.49,"r":0.04},
{"d":"2010-02-09","t":1.37,"n":0.88,"s":0.41,"r":0.04},
{"d":"2010-02-10","t":1.53,"n":0.96,"s":0.48,"r":0.05},
{"d":"2010-02-11","t":1.32,"n":0.86,"s":0.38,"r":0.04},
{"d":"2010-02-12","t":1.33,"n":0.8,"s":0.45,"r":0.04},
{"d":"2010-02-13","t":1.15,"n":0.52,"s":0.54,"r":0.06},
{"d":"2010-02-14","t":1.18,"n":0.51,"s":0.59,"r":0.05},
{"d":"2010-02-15","t":1.4,"n":0.93,"s":0.39,"r":0.04},
{"d":"2010-02-16","t":1.38,"n":0.88,"s":0.42,"r":0.04},
{"d":"2010-02-17","t":1.47,"n":0.93,"s":0.46,"r":0.04},
{"d":"2010-02-18","t":1.4,"n":0.92,"s":0.4,"r":0.04},
{"d":"2010-02-19","t":1.43,"n":0.87,"s":0.48,"r":0.04},
{"d":"2010-02-20","t":1.15,"n":0.51,"s":0.56,"r":0.05},
{"d":"2010-02-21","t":1.17,"n":0.5,"s":0.59,"r":0.05},
{"d":"2010-02-22","t":1.36,"n":0.9,"s":0.38,"r":0.04},
{"d":"2010-02-23","t":1.51,"n":1.01,"s":0.45,"r":0.04},
{"d":"2010-02-24","t":1.4,"n":0.9,"s":0.42,"r":0.04},
{"d":"2010-02-25","t":1.48,"n":0.94,"s":0.48,"r":0.04},
{"d":"2010-02-26","t":1.22,"n":0.76,"s":0.38,"r":0.04},
{"d":"2010-02-27","t":1.19,"n":0.53,"s":0.58,"r":0.05},
{"d":"2010-02-28","t":1.16,"n":0.5,"s":0.58,"r":0.05},
{"d":"2010-03-01","t":1.36,"n":0.91,"s":0.37,"r":0.04},
{"d":"2010-03-02","t":1.5,"n":0.98,"s":0.44,"r":0.04},
{"d":"2010-03-03","t":1.38,"n":0.92,"s":0.39,"r":0.04},
{"d":"2010-03-04","t":1.5,"n":1.03,"s":0.42,"r":0.04},
{"d":"2010-03-05","t":1.2,"n":0.79,"s":0.34,"r":0.04},
{"d":"2010-03-06","t":1.1,"n":0.49,"s":0.53,"r":0.05},
{"d":"2010-03-07","t":1.02,"n":0.49,"s":0.46,"r":0.05},
{"d":"2010-03-08","t":1.46,"n":0.97,"s":0.42,"r":0.04},
{"d":"2010-03-09","t":1.4,"n":1.01,"s":0.32,"r":0.04},
{"d":"2010-03-10","t":1.34,"n":0.9,"s":0.37,"r":0.04},
{"d":"2010-03-11","t":1.5,"n":1.06,"s":0.37,"r":0.04},
{"d":"2010-03-12","t":1.36,"n":0.96,"s":0.33,"r":0.04},
{"d":"2010-03-13","t":1.08,"n":0.49,"s":0.52,"r":0.05},
{"d":"2010-03-14","t":1.02,"n":0.53,"s":0.43,"r":0.04},
{"d":"2010-03-15","t":1.29,"n":0.86,"s":0.37,"r":0.03},
{"d":"2010-03-16","t":1.4,"n":1.08,"s":0.26,"r":0.03},
{"d":"2010-03-17","t":1.31,"n":0.9,"s":0.35,"r":0.03},
{"d":"2010-03-18","t":1.38,"n":1.04,"s":0.28,"r":0.03},
{"d":"2010-03-19","t":1.33,"n":0.92,"s":0.35,"r":0.03},
{"d":"2010-03-20","t":0.92,"n":0.51,"s":0.34,"r":0.04},
{"d":"2010-03-21","t":0.98,"n":0.55,"s":0.36,"r":0.04},
{"d":"2010-03-22","t":1.2,"n":0.86,"s":0.29,"r":0.03},
{"d":"2010-03-23","t":1.33,"n":1.05,"s":0.22,"r":0.03},
{"d":"2010-03-24","t":1.34,"n":0.96,"s":0.32,"r":0.03},
{"d":"2010-03-25","t":1.4,"n":1.11,"s":0.23,"r":0.03},
{"d":"2010-03-26","t":1.23,"n":0.88,"s":0.29,"r":0.03},
{"d":"2010-03-27","t":0.82,"n":0.51,"s":0.25,"r":0.03},
{"d":"2010-03-28","t":0.94,"n":0.56,"s":0.32,"r":0.03},
{"d":"2010-03-29","t":1.29,"n":1.03,"s":0.2,"r":0.03},
{"d":"2010-03-30","t":1.33,"n":1.02,"s":0.25,"r":0.03},
{"d":"2010-03-31","t":1.26,"n":1.03,"s":0.17,"r":0.03},
{"d":"2010-04-01","t":1.23,"n":0.97,"s":0.2,"r":0.03},
{"d":"2010-04-02","t":1.01,"n":0.68,"s":0.27,"r":0.03},
{"d":"2010-04-03","t":0.85,"n":0.56,"s":0.24,"r":0.03},
{"d":"2010-04-04","t":0.97,"n":0.6,"s":0.32,"r":0.03},
{"d":"2010-04-05","t":0.99,"n":0.69,"s":0.24,"r":0.03},
{"d":"2010-04-06","t":1.29,"n":1.01,"s":0.22,"r":0.03},
{"d":"2010-04-07","t":1.27,"n":1.1,"s":0.12,"r":0.02},
{"d":"2010-04-08","t":1.27,"n":1.02,"s":0.19,"r":0.03},
{"d":"2010-04-09","t":1.14,"n":0.94,"s":0.15,"r":0.02},
{"d":"2010-04-10","t":0.94,"n":0.59,"s":0.29,"r":0.03},
{"d":"2010-04-11","t":0.87,"n":0.64,"s":0.18,"r":0.03},
{"d":"2010-04-12","t":1.19,"n":0.98,"s":0.16,"r":0.02},
{"d":"2010-04-13","t":1.25,"n":1.03,"s":0.17,"r":0.02},
{"d":"2010-04-14","t":1.29,"n":1.1,"s":0.13,"r":0.03},
{"d":"2010-04-15","t":1.45,"n":1.19,"s":0.21,"r":0.02},
{"d":"2010-04-16","t":1.13,"n":0.93,"s":0.15,"r":0.02},
{"d":"2010-04-17","t":0.98,"n":0.63,"s":0.29,"r":0.03},
{"d":"2010-04-18","t":0.85,"n":0.62,"s":0.18,"r":0.03},
{"d":"2010-04-19","t":1.31,"n":1.06,"s":0.2,"r":0.02},
{"d":"2010-04-20","t":1.23,"n":1.04,"s":0.14,"r":0.02},
{"d":"2010-04-21","t":1.36,"n":1.09,"s":0.22,"r":0.02},
{"d":"2010-04-22","t":1.37,"n":1.19,"s":0.12,"r":0.03},
{"d":"2010-04-23","t":1.14,"n":0.92,"s":0.17,"r":0.02},
{"d":"2010-04-24","t":1.0,"n":0.65,"s":0.3,"r":0.03},
{"d":"2010-04-25","t":0.9,"n":0.63,"s":0.21,"r":0.03},
{"d":"2010-04-26","t":1.33,"n":1.04,"s":0.24,"r":0.02},
{"d":"2010-04-27","t":1.31,"n":1.11,"s":0.15,"r":0.02},
{"d":"2010-04-28","t":1.43,"n":1.17,"s":0.21,"r":0.02},
{"d":"2010-04-29","t":1.32,"n":1.16,"s":0.11,"r":0.02},
{"d":"2010-04-30","t":1.22,"n":0.98,"s":0.2,"r":0.02},
{"d":"2010-05-01","t":1.98,"n":1.75,"s":0.2,"r":0.02},
{"d":"2010-05-02","t":2.48,"n":2.25,"s":0.2,"r":0.02},
{"d":"2010-05-03","t":2.7,"n":2.49,"s":0.18,"r":0.02},
{"d":"2010-05-04","t":2.6,"n":2.4,"s":0.17,"r":0.02},
{"d":"2010-05-05","t":2.52,"n":2.3,"s":0.18,"r":0.02},
{"d":"2010-05-06","t":1.03,"n":0.8,"s":0.2,"r":0.02},
{"d":"2010-05-07","t":1.35,"n":1.1,"s":0.22,"r":0.02},
{"d":"2010-05-08","t":1.16,"n":0.95,"s":0.18,"r":0.02},
{"d":"2010-05-09","t":1.6,"n":1.42,"s":0.15,"r":0.02},
{"d":"2010-05-10","t":1.38,"n":1.18,"s":0.17,"r":0.02},
{"d":"2010-05-11","t":1.29,"n":1.12,"s":0.14,"r":0.02}
]},
"transform":[{"fold":["t","n","s","r"],"as":["k","v"]}],
"layer":[
{"mark":{"type":"line","strokeWidth":1},
"encoding":{
"x":{"field":"d","type":"temporal",
"scale":{"type":"utc","domain":[{"year":2009,"month":1,"date":1,"utc":true},{"year":2010,"month":7,"date":1,"utc":true}]},
"axis":{"title":null,"orient":"bottom",
"values":{"expr":"[utc(2009,0,1),utc(2009,2,1),utc(2009,4,1),utc(2009,6,1),utc(2009,8,1),utc(2009,10,1),utc(2010,0,1),utc(2010,2,1),utc(2010,4,1),utc(2010,6,1),utc(2009,0,1,283),utc(2009,0,1,566),utc(2009,0,1,850),utc(2009,0,1,1133),utc(2009,0,1,1709),utc(2009,0,1,2002),utc(2009,0,1,2294),utc(2009,0,1,2587),utc(2009,0,1,3173),utc(2009,0,1,3466),utc(2009,0,1,3758),utc(2009,0,1,4051),utc(2009,0,1,4642),utc(2009,0,1,4939),utc(2009,0,1,5237),utc(2009,0,1,5534),utc(2009,0,1,6125),utc(2009,0,1,6418),utc(2009,0,1,6710),utc(2009,0,1,7003),utc(2009,0,1,7589),utc(2009,0,1,7882),utc(2009,0,1,8174),utc(2009,0,1,8467),utc(2009,0,1,9043),utc(2009,0,1,9326),utc(2009,0,1,9610),utc(2009,0,1,9893),utc(2009,0,1,10469),utc(2009,0,1,10762),utc(2009,0,1,11054),utc(2009,0,1,11347),utc(2009,0,1,11933),utc(2009,0,1,12226),utc(2009,0,1,12518),utc(2009,0,1,12811)]"},
"labelExpr":"utchours(datum.value)==0 ? utcFormat(datum.value,'%Y-%m-%d') : ''",
"labelAngle":45,"labelAlign":"left","labelBaseline":"top","labelPadding":6,"labelFontSize":11,"labelColor":"#000","labelFont":"Liberation Sans","labelOverlap":false,"labelFlush":false,"labelBound":false,
"ticks":true,"tickSize":-3,"tickColor":"#000","tickWidth":1,"domain":false,
"grid":true,"gridColor":"#bdbdbd","gridWidth":1,"gridOpacity":{"condition":{"test":"utchours(datum.value)==0","value":1},"value":0}}},
"y":{"field":"v","type":"quantitative","scale":{"domain":[0,3],"nice":false},
"axis":{"title":null,"orient":"left","values":[0,0.5,1,1.5,2,2.5,3],"labelExpr":"datum.value + ' %'","labelPadding":11,"labelFontSize":11,"labelColor":"#000","labelFont":"Liberation Sans","ticks":true,"tickSize":-4,"tickColor":"#000","domain":false,"grid":true,"gridColor":"#bdbdbd","gridWidth":1}},
"color":{"field":"k","type":"nominal","scale":{"domain":["t","n","s","r"],"range":["#ff1a1a","#1cb81c","#1a8cff","#c81aff"]},
"legend":{"orient":"none","legendX":557,"legendY":0,"title":null,"symbolType":"M-3,0H3","symbolSize":100,"symbolStrokeWidth":1.2,"symbolOffset":0,"labelOffset":-26,"labelAlign":"right","labelFontSize":11,"labelColor":"#000","labelFont":"Liberation Sans","rowPadding":0.7,"padding":0,"labelExpr":"datum.label=='t'?'total':datum.label=='n'?'native':datum.label=='s'?'6to4':'teredo'"}}
}},
{"mark":{"type":"point","opacity":0,"size":1},
"encoding":{
"x":{"field":"d","type":"temporal",
"scale":{"type":"utc","domain":[{"year":2009,"month":1,"date":1,"utc":true},{"year":2010,"month":7,"date":1,"utc":true}]},
"axis":{"title":null,"orient":"top","labels":false,"grid":false,"domain":false,"ticks":true,"tickSize":-3,"tickColor":"#000","tickWidth":1,
"values":{"expr":"[utc(2009,0,1),utc(2009,2,1),utc(2009,4,1),utc(2009,6,1),utc(2009,8,1),utc(2009,10,1),utc(2010,0,1),utc(2010,2,1),utc(2010,4,1),utc(2010,6,1),utc(2009,0,1,283),utc(2009,0,1,566),utc(2009,0,1,850),utc(2009,0,1,1133),utc(2009,0,1,1709),utc(2009,0,1,2002),utc(2009,0,1,2294),utc(2009,0,1,2587),utc(2009,0,1,3173),utc(2009,0,1,3466),utc(2009,0,1,3758),utc(2009,0,1,4051),utc(2009,0,1,4642),utc(2009,0,1,4939),utc(2009,0,1,5237),utc(2009,0,1,5534),utc(2009,0,1,6125),utc(2009,0,1,6418),utc(2009,0,1,6710),utc(2009,0,1,7003),utc(2009,0,1,7589),utc(2009,0,1,7882),utc(2009,0,1,8174),utc(2009,0,1,8467),utc(2009,0,1,9043),utc(2009,0,1,9326),utc(2009,0,1,9610),utc(2009,0,1,9893),utc(2009,0,1,10469),utc(2009,0,1,10762),utc(2009,0,1,11054),utc(2009,0,1,11347),utc(2009,0,1,11933),utc(2009,0,1,12226),utc(2009,0,1,12518),utc(2009,0,1,12811)]"}}},
"y":{"field":"v","type":"quantitative","scale":{"domain":[0,3],"nice":false},
"axis":{"title":null,"orient":"right","labels":false,"grid":false,"domain":false,"ticks":true,"tickSize":-4,"tickColor":"#000","values":[0,0.5,1,1.5,2,2.5,3]}}
}}
],
"resolve":{"axis":{"x":"independent","y":"independent"}},
"config":{"view":{"stroke":"#000","strokeWidth":1},"font":"Liberation Sans"}
}
